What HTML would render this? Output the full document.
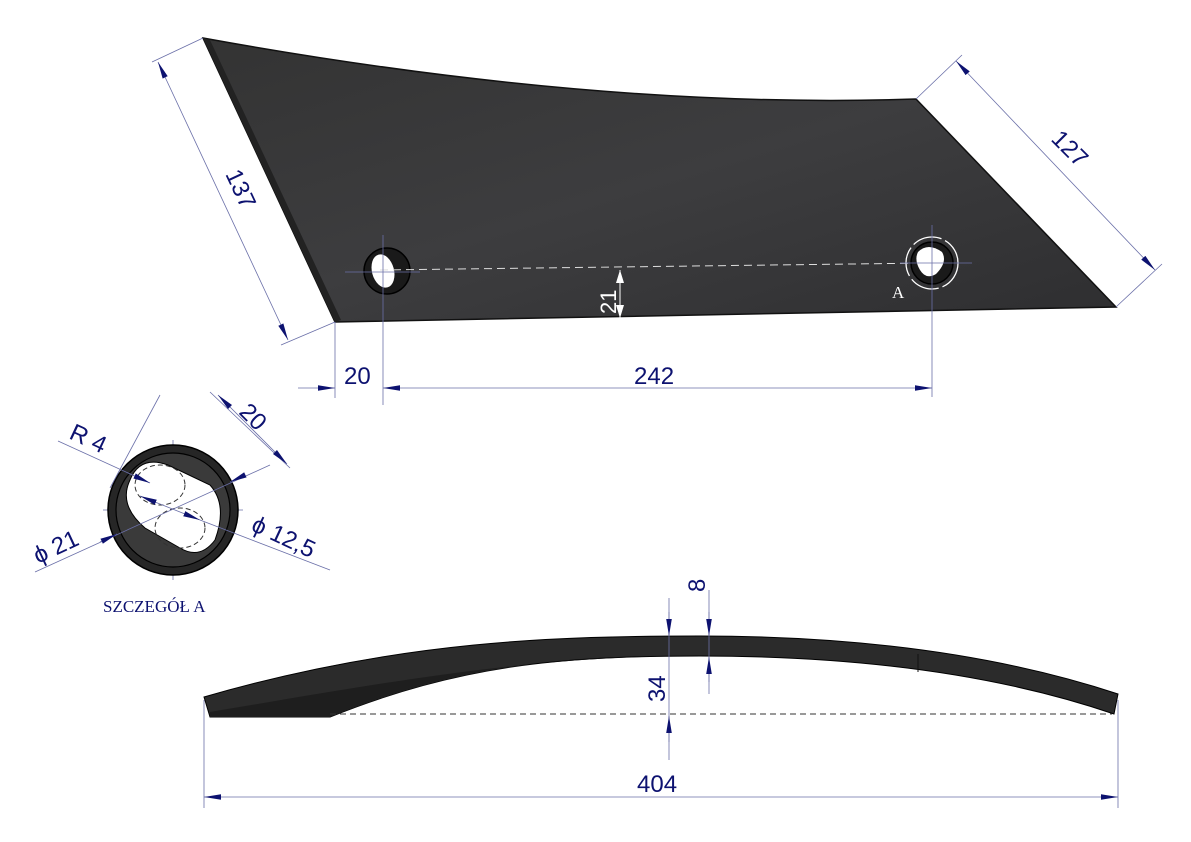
<!DOCTYPE html>
<html><head><meta charset="utf-8"><style>
html,body{margin:0;padding:0;background:#fff;width:1191px;height:842px;overflow:hidden}
svg{display:block}
.d{stroke:#6a6fa8;stroke-width:0.8;fill:none}
.t{font-family:"Liberation Sans",sans-serif;font-size:24px;fill:#0d1270}
</style></head><body>
<svg width="1191" height="842" viewBox="0 0 1191 842" xmlns="http://www.w3.org/2000/svg">
<defs>
<marker id="a" viewBox="0 0 10 10" refX="10" refY="5" markerWidth="17" markerHeight="7" markerUnits="userSpaceOnUse" preserveAspectRatio="none" orient="auto-start-reverse"><path d="M0,1 L10,5 L0,9z" fill="#0d1270"/></marker>
<linearGradient id="g" x1="0" y1="0" x2="1" y2="1"><stop offset="0" stop-color="#333"/><stop offset="0.5" stop-color="#3d3d3f"/><stop offset="1" stop-color="#2e2e30"/></linearGradient>
</defs>

<!-- top view plate -->
<path d="M203,38 Q600,110 916,99 L1116,307 L335,322 Z" fill="url(#g)" stroke="#111" stroke-width="1.5"/>
<path d="M203,38 L210,40 L341,320 L335,322 Z" fill="#222"/>
<circle cx="387" cy="271" r="23" fill="#1a1a1a" stroke="#000" stroke-width="1.5"/>
<ellipse cx="383" cy="271" rx="11" ry="17" transform="rotate(-15 383 271)" fill="#fff"/>
<line x1="380" y1="270" x2="930" y2="263" stroke="#ddd" stroke-width="1" stroke-dasharray="8,5"/>
<line x1="383" y1="235" x2="383" y2="405" class="d"/>
<line x1="345" y1="272" x2="420" y2="272" class="d"/>
<circle cx="932" cy="263" r="26" fill="none" stroke="#fff" stroke-width="1.3" stroke-dasharray="30,4"/>
<circle cx="932" cy="263" r="21" fill="#1a1a1a" stroke="#000" stroke-width="1.5"/>
<path d="M918,252 Q928,242 942,252 Q948,262 936,274 Q926,280 920,270 Q914,260 918,252Z" fill="#fff"/>
<line x1="932" y1="225" x2="932" y2="397" class="d"/>
<line x1="900" y1="263" x2="972" y2="263" class="d"/>
<text x="892" y="298" font-family="Liberation Serif,serif" font-size="17" fill="#fff">A</text>
<line x1="620" y1="270" x2="620" y2="318" stroke="#fff" stroke-width="1"/>
<path d="M616,283 L620,270 L624,283z M616,305 L620,318 L624,305z" fill="#fff"/>
<text class="t" style="fill:#fff;font-size:22px" transform="translate(616,314) rotate(-90)">21</text>

<!-- 137 -->
<line x1="203" y1="38" x2="152" y2="62" class="d"/>
<line x1="335" y1="322" x2="281" y2="345" class="d"/>
<line x1="158" y1="62" x2="288" y2="340" class="d" marker-start="url(#a)" marker-end="url(#a)"/>
<text class="t" transform="translate(225,174) rotate(65)">137</text>
<!-- 127 -->
<line x1="916" y1="99" x2="962" y2="55" class="d"/>
<line x1="1116" y1="307" x2="1162" y2="264" class="d"/>
<line x1="956" y1="61" x2="1155" y2="270" class="d" marker-start="url(#a)" marker-end="url(#a)"/>
<text class="t" transform="translate(1050,140) rotate(45)">127</text>
<!-- 20 / 242 -->
<line x1="335" y1="322" x2="335" y2="398" class="d"/>
<line x1="298" y1="388" x2="335" y2="388" class="d" marker-end="url(#a)"/>
<line x1="383" y1="388" x2="932" y2="388" class="d" marker-start="url(#a)" marker-end="url(#a)"/>
<text class="t" x="344" y="384">20</text>
<text class="t" x="634" y="384">242</text>

<!-- detail A -->
<line x1="173" y1="440" x2="173" y2="580" class="d"/>
<line x1="103" y1="510" x2="243" y2="510" class="d"/>
<circle cx="173" cy="510" r="65" fill="#262626" stroke="#000" stroke-width="1.5"/>
<circle cx="173" cy="510" r="57" fill="#3a3a3a" stroke="#000" stroke-width="1.2"/>
<path d="M130,480 Q140,455 168,465 L210,485 Q228,505 215,540 Q200,560 180,548 L145,528 Q118,505 130,480Z" fill="#fff" stroke="#000"/>
<ellipse cx="160" cy="485" rx="25" ry="20" fill="none" stroke="#333" stroke-dasharray="5,3"/>
<ellipse cx="180" cy="528" rx="25" ry="20" fill="none" stroke="#333" stroke-dasharray="5,3"/>
<line x1="160" y1="395" x2="110" y2="488" class="d"/>
<line x1="210" y1="392" x2="290" y2="468" class="d"/>
<line x1="218" y1="395" x2="287" y2="464" class="d" marker-start="url(#a)" marker-end="url(#a)"/>
<text class="t" transform="translate(238,413) rotate(45)">20</text>
<line x1="58" y1="441" x2="150" y2="483" class="d" marker-end="url(#a)"/>
<text class="t" transform="translate(68,438) rotate(25)">R 4</text>
<line x1="140" y1="496" x2="200" y2="520" class="d" marker-start="url(#a)" marker-end="url(#a)"/>
<line x1="200" y1="520" x2="330" y2="570" class="d"/>
<text class="t" transform="translate(250,530) rotate(25)">ϕ 12,5</text>
<line x1="35" y1="572" x2="270" y2="465" class="d"/>
<line x1="100" y1="542" x2="117" y2="534" class="d" marker-end="url(#a)"/>
<line x1="245" y1="475" x2="230" y2="482" class="d" marker-end="url(#a)"/>
<text class="t" transform="translate(38,564) rotate(-25)">ϕ 21</text>
<text x="103" y="612" font-family="Liberation Serif,serif" font-size="17" fill="#0d1270">SZCZEGÓŁ  A</text>

<!-- side view -->
<path d="M204,697 C400,640 560,636 700,636 C860,636 1000,655 1118,694 L1114,714 C1000,675 860,656 700,656 C560,656 460,665 330,717 L210,717 Z" fill="#2b2b2b" stroke="#000" stroke-width="1"/>
<path d="M210,717 L330,717 C460,665 560,656 700,656 C530,656 400,680 210,712Z" fill="#1e1e1e"/>
<line x1="918" y1="654" x2="918" y2="672" stroke="#111"/>
<line x1="330" y1="714" x2="1112" y2="714" stroke="#333" stroke-width="1" stroke-dasharray="6,4"/>
<line x1="204" y1="700" x2="204" y2="808" class="d"/>
<line x1="1118" y1="700" x2="1118" y2="808" class="d"/>
<line x1="204" y1="797" x2="1118" y2="797" class="d" marker-start="url(#a)" marker-end="url(#a)"/>
<text class="t" x="637" y="792">404</text>
<line x1="669" y1="598" x2="669" y2="760" class="d"/>
<line x1="709" y1="590" x2="709" y2="694" class="d"/>
<line x1="669" y1="612" x2="669" y2="636" class="d" marker-end="url(#a)"/>
<line x1="669" y1="742" x2="669" y2="716" class="d" marker-end="url(#a)"/>
<line x1="709" y1="612" x2="709" y2="636" class="d" marker-end="url(#a)"/>
<line x1="709" y1="682" x2="709" y2="657" class="d" marker-end="url(#a)"/>
<text class="t" transform="translate(665,702) rotate(-90)">34</text>
<text class="t" transform="translate(705,592) rotate(-90)">8</text>
</svg>
</body></html>
